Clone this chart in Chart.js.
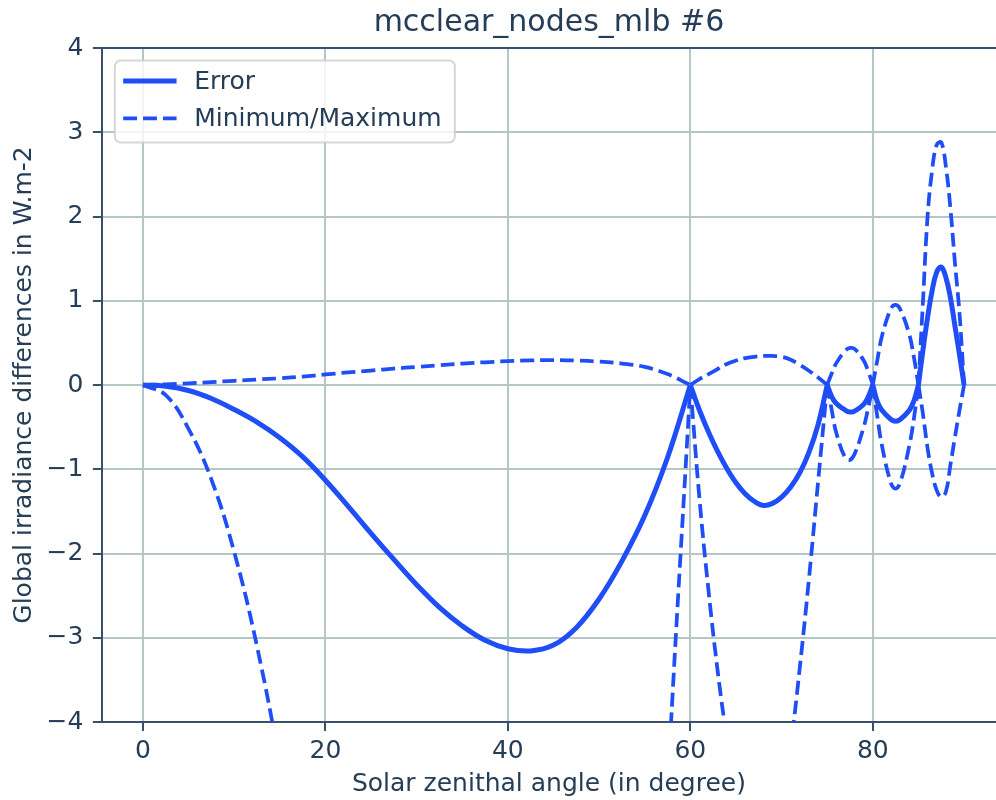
<!DOCTYPE html>
<html>
<head>
<meta charset="utf-8">
<title>mcclear_nodes_mlb #6</title>
<script src="https://cdn.jsdelivr.net/npm/chart.js@4"></script>
<style>
  html, body { margin: 0; padding: 0; background: #ffffff; overflow: hidden; }
  #wrap { width: 996px; height: 800px; }
</style>
</head>
<body>
<div id="wrap"><canvas id="chart"></canvas></div>
<script>
// Solar zenithal angles (degrees) at which the curves were read
const angles = [
    0, 2.5, 5, 7.5, 10, 12.5, 15, 17.5, 20, 22.5, 25, 27.5, 30, 32.5, 35, 37.5, 40, 42.5, 45, 47.5, 50, 52.5, 55, 57.5, 60,
    61, 62, 63, 64, 65, 66, 67, 68, 69, 70, 71, 72, 73, 74, 75,
    75.5, 76, 77, 77.5, 78, 79, 79.5, 80,
    80.5, 81, 82, 82.5, 83, 84, 84.5, 85,
    85.5, 86, 86.5, 87, 87.5, 88, 88.5, 89, 89.5, 90
];

// Error (solid line), W.m-2
const errorValues = [
    0, -0.015, -0.065, -0.16, -0.29, -0.44, -0.625, -0.85, -1.13, -1.44, -1.76, -2.07, -2.37, -2.64, -2.86, -3.03, -3.13, -3.156, -3.087, -2.88, -2.54, -2.09, -1.55, -0.86, 0,
    -0.3, -0.56, -0.79, -0.99, -1.16, -1.29, -1.38, -1.43, -1.405, -1.33, -1.21, -1.04, -0.8, -0.47, 0,
    -0.14, -0.22, -0.3, -0.32, -0.31, -0.23, -0.14, 0,
    -0.2, -0.3, -0.41, -0.43, -0.41, -0.3, -0.19, 0,
    0.42, 0.8, 1.12, 1.34, 1.4, 1.28, 1.04, 0.7, 0.36, 0
];

// Minimum (lower dashed line), goes far below the axis between the nodes
const minValues = [
    0, -0.12, -0.52, -1.12, -1.98, -3.1, -4.5, -6.2, -8.1, -10, -11.8, -13.5, -15, -16.4, -17.5, -18.4, -19, -19.2, -18.9, -18, -16.6, -14.5, -10.5, -4.8, 0,
    -1.35, -2.45, -3.4, -4.2, -4.9, -5.4, -5.7, -5.75, -5.6, -5.1, -4.3, -3.35, -2.3, -1.15, 0,
    -0.3, -0.57, -0.87, -0.89, -0.82, -0.5, -0.27, 0,
    -0.38, -0.72, -1.17, -1.23, -1.16, -0.72, -0.4, 0,
    -0.35, -0.75, -1.05, -1.25, -1.33, -1.27, -0.95, -0.62, -0.3, 0
];

// Maximum (upper dashed line)
const maxValues = [
    0, 0.008, 0.02, 0.035, 0.05, 0.065, 0.08, 0.1, 0.125, 0.15, 0.172, 0.195, 0.215, 0.235, 0.255, 0.27, 0.283, 0.292, 0.296, 0.29, 0.278, 0.255, 0.215, 0.13, 0,
    0.07, 0.13, 0.19, 0.25, 0.29, 0.32, 0.335, 0.345, 0.345, 0.335, 0.3, 0.24, 0.17, 0.09, 0,
    0.14, 0.26, 0.41, 0.44, 0.43, 0.29, 0.16, 0,
    0.3, 0.58, 0.91, 0.95, 0.9, 0.6, 0.33, 0,
    1.0, 2.0, 2.55, 2.85, 2.88, 2.6, 2.1, 1.45, 0.85, 0
];

// Nodes where all curves meet zero with a sharp corner
const nodeAngles = [60, 75, 80, 85];

const xTicks = [0, 20, 40, 60, 80];
const yTicks = [-4, -3, -2, -1, 0, 1, 2, 3, 4];

const lineColor = '#1f4ef7';
const textColor = '#253d56';
const axisColor = '#3a5068';
const gridColor = '#b5c7c4';
const fontFamily = "'DejaVu Sans', sans-serif";

// Build {x, y} points; a gap after each node keeps the corner sharp
function toPoints(values) {
    const points = [];
    angles.forEach((a, i) => {
        points.push({ x: a, y: values[i] });
        if (nodeAngles.includes(a)) {
            points.push({ x: a, y: null });
            points.push({ x: a, y: values[i] });
        }
    });
    return points;
}

const minus = v => (v < 0 ? '\u2212' + Math.abs(v) : String(v));

// Top spine of the axes box
const topSpine = {
    id: 'topSpine',
    beforeDatasetsDraw(chart) {
        const { ctx, chartArea } = chart;
        ctx.save();
        ctx.strokeStyle = axisColor;
        ctx.lineWidth = 2;
        ctx.beginPath();
        ctx.moveTo(chartArea.left, chartArea.top);
        ctx.lineTo(chartArea.right, chartArea.top);
        ctx.stroke();
        ctx.restore();
    }
};

// Framed legend in the upper left corner of the axes
const framedLegend = {
    id: 'framedLegend',
    afterDatasetsDraw(chart) {
        const { ctx, chartArea } = chart;
        const x0 = chartArea.left + 13;
        const y0 = chartArea.top + 12.5;
        ctx.save();
        ctx.beginPath();
        ctx.roundRect(x0, y0, 340, 82, 6);
        ctx.fillStyle = 'rgba(255,255,255,0.8)';
        ctx.fill();
        ctx.lineWidth = 2;
        ctx.strokeStyle = 'rgba(204,204,204,0.8)';
        ctx.stroke();

        const seen = [];
        let row = 0;
        chart.data.datasets.forEach(ds => {
            if (seen.includes(ds.label)) return;
            seen.push(ds.label);
            const y = chartArea.top + 33 + row * 37.3;
            ctx.beginPath();
            ctx.setLineDash(ds.borderDash || []);
            ctx.lineWidth = ds.borderWidth;
            ctx.strokeStyle = ds.borderColor;
            ctx.moveTo(x0 + 8.3, y);
            ctx.lineTo(x0 + 61.7, y);
            ctx.stroke();
            ctx.setLineDash([]);
            ctx.fillStyle = textColor;
            ctx.font = '25px ' + fontFamily;
            ctx.textBaseline = 'middle';
            ctx.textAlign = 'left';
            ctx.fillText(ds.label, x0 + 79.3, y + 1);
            row++;
        });
        ctx.restore();
    }
};

const chart = new Chart(
    document.getElementById('chart'),
    {
        type: 'line',
        data: {
            datasets: [
                {
                    label: 'Error',
                    data: toPoints(errorValues),
                    borderColor: lineColor,
                    borderWidth: 5
                },
                {
                    label: 'Minimum/Maximum',
                    data: toPoints(minValues),
                    borderColor: lineColor,
                    borderWidth: 3.75,
                    borderDash: [13.9, 6]
                },
                {
                    label: 'Minimum/Maximum',
                    data: toPoints(maxValues),
                    borderColor: lineColor,
                    borderWidth: 3.75,
                    borderDash: [13.9, 6]
                }
            ]
        },
        options: {
            responsive: true,
            maintainAspectRatio: false,
            animation: false,
            events: [],
            devicePixelRatio: 1,
            spanGaps: false,
            elements: {
                line: { tension: 0.4, capBezierPoints: false }
            },
            datasets: {
                line: { pointRadius: 0, fill: false, clip: 0 }
            },
            layout: {
                padding: { left: 4, top: 3, right: 0, bottom: 0 }
            },
            plugins: {
                legend: { display: false },
                tooltip: { enabled: false },
                title: {
                    display: true,
                    text: 'mcclear_nodes_mlb #6',
                    fullSize: false,
                    color: textColor,
                    font: { family: fontFamily, size: 30, weight: 'normal', lineHeight: 1.2 },
                    padding: { top: 1.9, bottom: 7.1 }
                }
            },
            scales: {
                x: {
                    type: 'linear',
                    min: -4.5,
                    max: 93.5,
                    afterBuildTicks: axis => { axis.ticks = xTicks.map(v => ({ value: v })); },
                    grid: { color: gridColor, lineWidth: 2, tickLength: 9, tickColor: axisColor, tickWidth: 2 },
                    border: { color: axisColor, width: 2 },
                    ticks: {
                        color: textColor,
                        font: { family: fontFamily, size: 25, lineHeight: 1.2 },
                        padding: 5.5,
                        maxRotation: 0,
                        callback: v => minus(v)
                    },
                    title: {
                        display: true,
                        text: 'Solar zenithal angle (in degree)',
                        color: textColor,
                        font: { family: fontFamily, size: 25, lineHeight: 1.0 },
                        padding: { top: 0, bottom: 3 }
                    }
                },
                y: {
                    type: 'linear',
                    min: -4,
                    max: 4,
                    afterBuildTicks: axis => { axis.ticks = yTicks.map(v => ({ value: v })); },
                    grid: { color: gridColor, lineWidth: 2, tickLength: 9, tickColor: axisColor, tickWidth: 2 },
                    border: { color: axisColor, width: 2 },
                    ticks: {
                        color: textColor,
                        font: { family: fontFamily, size: 25, lineHeight: 1.2 },
                        padding: 9.5,
                        callback: v => minus(v)
                    },
                    title: {
                        display: true,
                        text: 'Global irradiance differences in W.m-2',
                        color: textColor,
                        font: { family: fontFamily, size: 25, lineHeight: 1.0 },
                        padding: { top: 8, bottom: 0 }
                    }
                }
            }
        },
        plugins: [topSpine, framedLegend]
    }
);
</script>
</body>
</html>
